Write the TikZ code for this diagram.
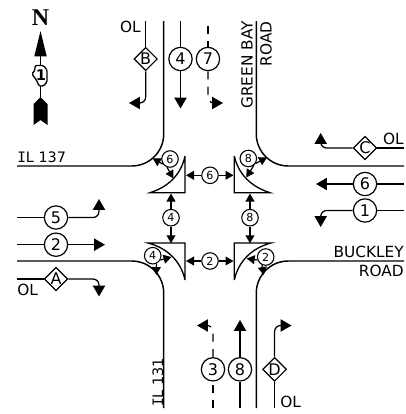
\documentclass[tikz,border=0pt]{standalone}
\usepackage{fontspec}
\setmainfont{DejaVu Sans}
\newfontfamily\serifletter{DejaVu Sans Mono}
\newfontfamily\northfont{Liberation Serif}[BoldFont={Liberation Serif Bold}]
\usetikzlibrary{shapes.geometric,arrows.meta,positioning}

\begin{document}
\begin{tikzpicture}[
    x=0.75pt, y=-0.75pt,
    road/.style={line width=1.1pt, rounded corners=24pt},
    sigline/.style={line width=0.95pt, rounded corners=4.5pt, -{Triangle[width=9.2pt,length=8.2pt]}},
    sigdash/.style={sigline, dash pattern=on 6pt off 5.5pt},
    lane/.style={line width=0.95pt},
    lanedash/.style={lane, dash pattern=on 6pt off 5.5pt},
    pedline/.style={line width=0.9pt, -{Triangle[width=6.6pt,length=6pt]}},
    island/.style={line width=1pt},
    phase/.style={circle, draw, fill=white, line width=0.9pt, minimum size=17.5pt, inner sep=0pt, font=\fontsize{12}{14}\selectfont},
    overlap/.style={diamond, draw, fill=white, line width=0.9pt, minimum size=17.5pt, inner sep=0pt, font=\fontsize{12}{14}\selectfont},
    pedphase/.style={circle, draw, fill=white, line width=0.8pt, minimum size=12.4pt, inner sep=0pt, font=\fontsize{8.3}{10}\selectfont},
    streetname/.style={inner sep=0pt, font=\fontsize{11.5}{13}\selectfont},
    routename/.style={inner sep=0pt, font=\fontsize{10.8}{13}\selectfont},
    olname/.style={inner sep=0pt, font=\fontsize{11.5}{13}\selectfont},
]
    \useasboundingbox (0,0) rectangle (406,414);

    % curbs
    \coordinate (nwtop) at (163.7,21);
    \coordinate (nwend) at (17,166);
    \coordinate (netop) at (256.3,21);
    \coordinate (neend) at (404,166);
    \coordinate (swend) at (17,261);
    \coordinate (swbot) at (163.7,408);
    \coordinate (seend) at (404,261);
    \coordinate (sebot) at (256.3,408);
    \draw [road] (nwtop) |- (nwend);
    \draw [road] (netop) |- (neend);
    \draw [road] (swbot) |- (swend);
    \draw [road] (sebot) |- (seend);

    % street names
    \node [routename, anchor=south west] (il137) at (17,163) {{\serifletter I}L 137};
    \node [streetname, rotate=90, anchor=east] (green) at (247,21) {GREEN BAY};
    \node [streetname, rotate=90, anchor=east] (roadn) at (266,21) {ROAD};
    \node [streetname, anchor=south east] (buckley) at (404,258) {BUCKLEY};
    \node [streetname, anchor=north east] (roads) at (404,265) {ROAD};
    \node [routename, rotate=90, anchor=west] (il131) at (158,407) {{\serifletter I}L 131};

    % north arrow
    \coordinate (ntip) at (40.5,31);
    \coordinate (ntail) at (40.5,100);
    \draw [line width=1.2pt, -{Triangle[width=9pt,length=19pt]}] (ntail) -- (ntip);
    \fill (40.5,97) -- (47.5,104) -- (47.5,125) -- (40.5,120) -- (33.5,125) -- (33.5,104) -- cycle;
    \draw [fill=white, line width=1pt, rounded corners=1pt] (35,65.5) -- (43.5,65.5) -- (47,70) -- (47,82) -- (43.5,86) -- (39,86) -- (37,81) -- (32,74) -- (35,70) -- cycle;
    \node [inner sep=0pt, font=\fontsize{11}{13}\bfseries] (shield) at (41,75.5) {1};
    \node [inner sep=0pt, font=\northfont\fontsize{18}{20}\bfseries] (north) at (40.5,18) {N};

    % top leg
    \node [overlap] (B) at (145.7,59) {B};
    \node [phase, right=7.7pt of B] (s4) {4};
    \node [phase, right=2.2pt of s4] (s7) {7};
    \node [olname, anchor=east] (olb) at (141,27) {OL};
    \coordinate (btop) at (B |- nwtop);
    \coordinate (btip) at (129,103);
    \coordinate (ftop) at (s4 |- nwtop);
    \coordinate (ftip) at (s4 |- 0,108.5);
    \coordinate (stop) at (s7 |- 0,26);
    \coordinate (stip) at (223,103);
    \draw [lane] (btop) -- (B);
    \draw [sigline] (B) |- (btip);
    \draw [lane] (ftop) -- (s4);
    \draw [sigline] (s4) -- (ftip);
    \draw [lanedash] (stop) -- (s7);
    \draw [sigdash] (s7) |- (stip);

    % right leg
    \node [overlap] (C) at (365,148) {C};
    \node [phase] (e6) at (365,184) {6};
    \node [phase] (e1) at (365,210.5) {1};
    \node [olname, anchor=south east] (olc) at (404,145) {OL};
    \coordinate (cend) at (404,148);
    \coordinate (ctip) at (320.7,133);
    \coordinate (send) at (404,184);
    \coordinate (stwo) at (316,184);
    \coordinate (oend) at (404,210.5);
    \coordinate (otip) at (320.7,227);
    \draw [lane] (cend) -- (C);
    \draw [sigline] (C) -| (ctip);
    \draw [lane] (send) -- (e6);
    \draw [sigline] (e6) -- (stwo);
    \draw [lane] (oend) -- (e1);
    \draw [sigline] (e1) -| (otip);

    % left leg
    \node [phase] (w5) at (56,217.5) {5};
    \node [phase] (w2) at (56,244.7) {2};
    \node [overlap] (A) at (56,279) {A};
    \node [olname, anchor=north west] (ola) at (17,284) {OL};
    \coordinate (fstart) at (17,217.5);
    \coordinate (ftwo) at (99,199);
    \coordinate (tstart) at (17,244.7);
    \coordinate (ttip) at (105,244.7);
    \coordinate (astart) at (17,279);
    \coordinate (atip) at (99,296.5);
    \draw [lane] (fstart) -- (w5);
    \draw [sigline] (w5) -| (ftwo);
    \draw [lane] (tstart) -- (w2);
    \draw [sigline] (w2) -- (ttip);
    \draw [lane] (astart) -- (A);
    \draw [sigline] (A) -| (atip);

    % bottom leg
    \node [phase] (s3) at (213,369.3) {3};
    \node [phase, right=1.85pt of s3] (s8) {8};
    \node [overlap, right=7.3pt of s8] (D) {D};
    \node [olname, anchor=south west] (old) at (280,408) {OL};
    \coordinate (tbot) at (s3 |- sebot);
    \coordinate (ttipb) at (197,325.5);
    \coordinate (ebot) at (s8 |- sebot);
    \coordinate (etip) at (s8 |- 0,320);
    \coordinate (dbot) at (D |- sebot);
    \coordinate (dtip) at (291.5,325.5);
    \draw [lanedash] (tbot) -- (s3);
    \draw [sigdash] (s3) |- (ttipb);
    \draw [lane] (ebot) -- (s8);
    \draw [sigline] (s8) -- (etip);
    \draw [lane] (dbot) -- (D);
    \draw [sigline] (D) |- (dtip);

    % refuge islands
    \draw [island] (185,156) -- (185,192.7) -- (150,192.7) .. controls (168,187) and (181,175) .. (185,156);
    \draw [island] (234.3,156) -- (234.3,192.7) -- (270,192.7) .. controls (252,187) and (238.5,175) .. (234.3,156);
    \draw [island] (185,280) -- (185,243) -- (148,243) .. controls (167,248) and (181,261) .. (185,280);
    \draw [island] (234.3,280) -- (234.3,243) -- (271,243) .. controls (252,248) and (238.5,261) .. (234.3,280);

    % pedestrian signals
    \node [pedphase] (pnw) at (170,159) {6};
    \node [pedphase] (pne) at (248.3,158.5) {8};
    \node [pedphase] (psw) at (152.7,255.7) {4};
    \node [pedphase] (pse) at (265.7,257) {2};
    \node [pedphase] (pn) at (210,175.3) {6};
    \node [pedphase] (ps) at (210,261) {2};
    \node [pedphase] (pw) at (171,217.7) {4};
    \node [pedphase] (pe) at (250,217.7) {8};

    \coordinate (pnwc) at (152.7,158.3);
    \coordinate (pnwi) at (173.5,178.5);
    \coordinate (pnec) at (267,157.5);
    \coordinate (pnei) at (246.3,177.5);
    \coordinate (pswc) at (156.3,275);
    \coordinate (pswi) at (171.5,257);
    \coordinate (psec) at (263.7,275);
    \coordinate (psei) at (246.7,258.5);
    \draw [pedline] (pnw.215) -- (pnwc);
    \draw [pedline] (pnw.250) -- (pnwi);
    \draw [pedline] (pne.-35) -- (pnec);
    \draw [pedline] (pne.-50) -- (pnei);
    \draw [pedline] (psw.-65) -- (pswc);
    \draw [pedline] (psw.-30) -- (pswi);
    \draw [pedline] (pse.-115) -- (psec);
    \draw [pedline] (pse.-160) -- (psei);

    \coordinate (pnl) at (186,175.3);
    \coordinate (pnr) at (233.5,175.3);
    \coordinate (psl) at (186,261);
    \coordinate (psr) at (233.5,261);
    \coordinate (pwu) at (171,193.5);
    \coordinate (pwd) at (171,243.3);
    \coordinate (peu) at (250,193.5);
    \coordinate (ped) at (250,243.3);
    \draw [pedline] (pn) -- (pnl);
    \draw [pedline] (pn) -- (pnr);
    \draw [pedline] (ps) -- (psl);
    \draw [pedline] (ps) -- (psr);
    \draw [pedline] (pw) -- (pwu);
    \draw [pedline] (pw) -- (pwd);
    \draw [pedline] (pe) -- (peu);
    \draw [pedline] (pe) -- (ped);
\end{tikzpicture}
\end{document}
